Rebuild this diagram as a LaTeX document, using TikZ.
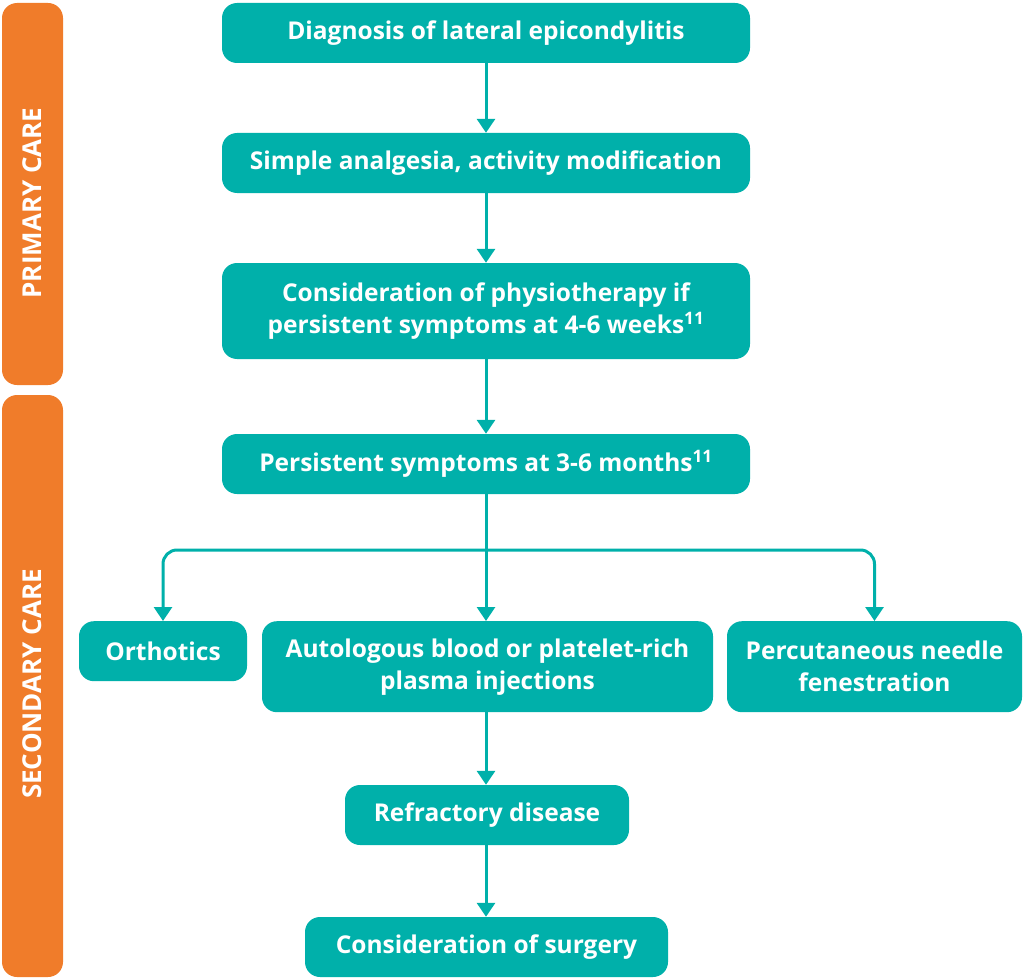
\documentclass[tikz,border=0pt]{standalone}
\usepackage{fontspec}
\setmainfont{Open Sans}
\usetikzlibrary{arrows.meta}

\definecolor{careorange}{RGB}{240,124,42}
\definecolor{stepteal}{RGB}{0,176,170}

\tikzset{
  stepbox/.style={fill=stepteal, text=white, rounded corners=15pt, inner sep=0pt,
    font=\fontsize{24.5}{32}\selectfont\bfseries, align=center},
  carebar/.style={fill=careorange, rounded corners=15pt},
  barlabel/.style={rotate=90, text=white, font=\fontsize{26}{30}\selectfont\bfseries},
  flow/.style={draw=stepteal, line width=3pt, -{Triangle[width=18pt,length=14pt]}},
}

\begin{document}
\begin{tikzpicture}[x=1pt, y=-1pt]
    \useasboundingbox (0,0) rectangle (1023,979);

    % Care bars on the left
    \fill[carebar] (2,3) rectangle (63,385);
    \fill[carebar] (2,395) rectangle (63,977);
    \node[barlabel] (primary) at (32.5,203) {PRIMARY CARE};
    \node[barlabel] (secondary) at (32.5,684) {SECONDARY CARE};

    % Steps
    \node[stepbox, minimum width=528pt, minimum height=60pt] (diag) at (486,33) {Diagnosis of lateral epicondylitis};
    \node[stepbox, minimum width=528pt, minimum height=60pt] (simple) at (486,163) {Simple analgesia, activity modification};
    \node[stepbox, minimum width=528pt, minimum height=96pt] (physio) at (486,311) {Consideration of physiotherapy if\\persistent symptoms at 4-6 weeks\textsuperscript{11}};
    \node[stepbox, minimum width=528pt, minimum height=60pt] (persist) at (486,464) {Persistent symptoms at 3-6 months\textsuperscript{11}};
    \node[stepbox, minimum width=168pt, minimum height=60pt, anchor=north] (orth) at (163,621) {Orthotics};
    \node[stepbox, minimum width=451pt, minimum height=91pt, anchor=north] (auto) at (487.5,621) {Autologous blood or platelet-rich\\plasma injections};
    \node[stepbox, minimum width=295pt, minimum height=91pt, anchor=north] (perc) at (874.5,621) {Percutaneous needle\\fenestration};
    \node[stepbox, minimum width=284pt, minimum height=60pt] (refr) at (487,815) {Refractory disease};
    \node[stepbox, minimum width=363pt, minimum height=60pt] (surg) at (486.5,947) {Consideration of surgery};

    % Connectors
    \coordinate (split) at (486,550);
    \draw[flow] (diag) -- (simple);
    \draw[flow] (simple) -- (physio);
    \draw[flow] (physio) -- (persist);
    \draw[flow] (persist.south -| split) -- (split) -- (auto.north -| split);
    \draw[flow, rounded corners=14pt] (split) -| (orth.north);
    \draw[flow, rounded corners=14pt] (split) -| (perc.north);
    \draw[flow] (auto.south -| split) -- (refr.north -| split);
    \draw[flow] (refr.south -| split) -- (surg.north -| split);
\end{tikzpicture}
\end{document}
